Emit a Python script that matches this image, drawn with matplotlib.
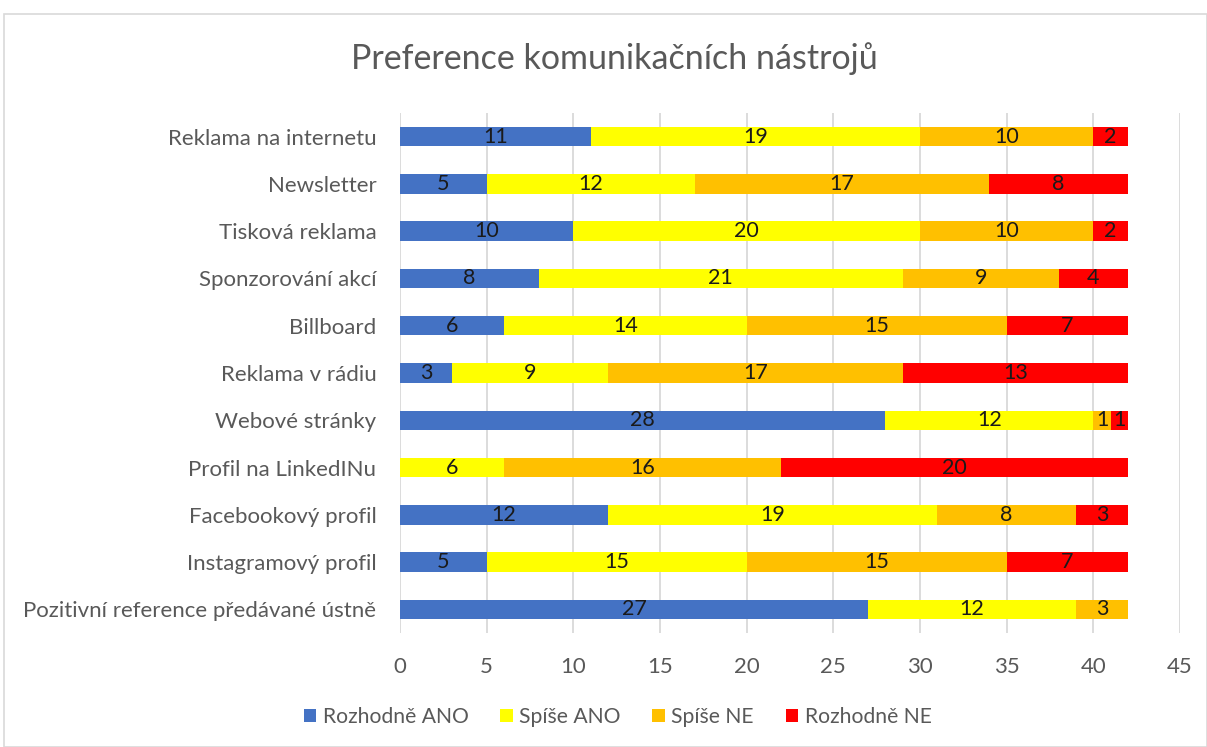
import matplotlib
matplotlib.use("Agg")
import matplotlib.pyplot as plt
from matplotlib.patches import Rectangle
import numpy as np

categories = ["Reklama na internetu", "Newsletter", "Tisková reklama", "Sponzorování akcí",
              "Billboard", "Reklama v rádiu", "Webové stránky", "Profil na LinkedINu",
              "Facebookový profil", "Instagramový profil", "Pozitivní reference předávané ústně"]
series_names = ["Rozhodně ANO", "Spíše ANO", "Spíše NE", "Rozhodně NE"]
rozhodne_ano = [11, 5, 10, 8, 6, 3, 28, 0, 12, 5, 27]
spise_ano = [19, 12, 20, 21, 14, 9, 12, 6, 19, 15, 12]
spise_ne = [10, 17, 10, 9, 15, 17, 1, 16, 8, 15, 3]
rozhodne_ne = [2, 8, 2, 4, 7, 13, 1, 20, 3, 7, 0]
colors = ["#4472C4", "#FFFF00", "#FFC000", "#FF0000"]

plt.rcParams['font.family'] = ['Lato', 'DejaVu Sans']

W, H = 1207, 747
fig = plt.figure(figsize=(W / 100, H / 100), dpi=100)
ax = fig.add_axes([400 / W, 1 - 633 / H, 780 / W, (633 - 113) / H])

fig.patches.append(Rectangle((4 / W, 0.0), 1 - 4 / W, 1 - 14 / H, transform=fig.transFigure,
                             fill=False, edgecolor="#d9d9d9", linewidth=1.2))

y = np.arange(len(categories))
left = np.zeros(len(categories))
for vals, name, col in zip([rozhodne_ano, spise_ano, spise_ne, rozhodne_ne], series_names, colors):
    vals = np.array(vals, dtype=float)
    bars = ax.barh(y, vals, left=left, height=0.41, color=col, label=name, zorder=3)
    for b, v, l in zip(bars, vals, left):
        if v > 0:
            ax.text(l + v / 2, b.get_y() + b.get_height() / 2, f"{int(v)}", ha="center", va="center",
                    fontsize=15.5, color="#1a1a1a", zorder=4)
    left += vals

ax.set_ylim(len(categories) - 0.5, -0.5)
ax.set_xlim(0, 45)
ax.set_xticks(range(0, 46, 5))
ax.set_yticks(y)
ax.set_yticklabels(categories)
ax.tick_params(axis="both", length=0, labelsize=16, colors="#595959")
ax.tick_params(axis="y", pad=17)
ax.tick_params(axis="x", pad=17)
ax.grid(axis="x", color="#d9d9d9", linewidth=1.3, zorder=0)
for s in ax.spines.values():
    s.set_visible(False)

fig.text(0.509, 1 - 69 / H, "Preference komunikačních nástrojů", ha="center", va="baseline",
         fontsize=24.5, color="#595959")
leg = fig.legend(loc="center", bbox_to_anchor=(0.5116, 1 - 717 / H), ncol=4, frameon=False,
                 fontsize=15.2, handlelength=0.6, handleheight=0.6, columnspacing=1.5,
                 handletextpad=0.3)
for t in leg.get_texts():
    t.set_color("#595959")

fig.savefig("out.png", dpi=100)
